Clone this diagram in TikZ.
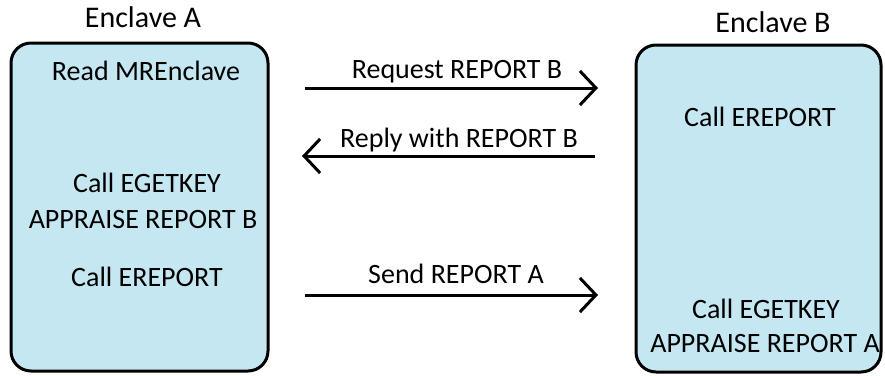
\documentclass[tikz,border=0pt]{standalone}
\usepackage{fontspec}
\setmainfont{Carlito}
\usetikzlibrary{arrows.meta}
\definecolor{enclfill}{RGB}{196,231,241}
\begin{document}
\begin{tikzpicture}[x=1pt,y=-1pt,
  enclbox/.style={draw=black,line width=3pt,fill=enclfill,rounded corners=20pt},
  ttl/.style={anchor=base,font=\fontsize{30}{32}\selectfont,inner sep=0pt},
  txt/.style={anchor=base,font=\fontsize{28}{30}\selectfont,inner sep=0pt},
  msg/.style={line width=3pt,-{Straight Barb[length=16pt,width=34pt,line width=3pt]}}]
\useasboundingbox (0,0) rectangle (885,375);
\draw[enclbox] (11,43) rectangle (268,371);
\draw[enclbox] (636,45) rectangle (881,372);
\node[ttl] (ta) at (143,27) {Enclave A};
\node[ttl] (tb) at (773,32) {Enclave B};
\node[txt] (a1) at (146,80) {Read MREnclave};
\node[txt] (a2) at (147,192) {Call EGETKEY};
\node[txt] (a3) at (143,228) {APPRAISE REPORT B};
\node[txt] (a4) at (147,286) {Call EREPORT};
\node[txt] (b1) at (760,126) {Call EREPORT};
\node[txt] (b2) at (766,318) {Call EGETKEY};
\node[txt] (b3) at (765,352) {APPRAISE REPORT A};
\coordinate (r1) at (305,88);
\coordinate (r2) at (598,88);
\coordinate (p1) at (595,156);
\coordinate (p2) at (302,156);
\coordinate (s1) at (305,295);
\coordinate (s2) at (598,295);
\draw[msg] (r1) -- (r2);
\draw[msg] (p1) -- (p2);
\draw[msg] (s1) -- (s2);
\node[txt] (lr) at (457,78) {Request REPORT B};
\node[txt] (lp) at (459,147) {Reply with REPORT B};
\node[txt] (ls) at (456,283) {Send REPORT A};
\end{tikzpicture}
\end{document}
